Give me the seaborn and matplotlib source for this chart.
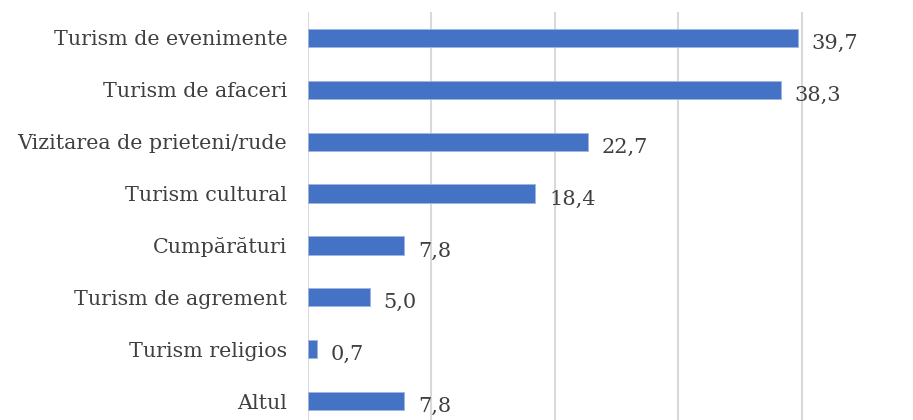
import matplotlib
matplotlib.use("Agg")
import matplotlib.pyplot as plt
import seaborn as sns
import pandas as pd

# -------------------------------
# Data
# -------------------------------
categories = [
    "Turism de evenimente",
    "Turism de afaceri",
    "Vizitarea de prieteni/rude",
    "Turism cultural",
    "Cumpărături",
    "Turism de agrement",
    "Turism religios",
    "Altul",
]
values = [39.7, 38.3, 22.7, 18.4, 7.8, 5.0, 0.7, 7.8]
value_labels = ["39,7", "38,3", "22,7", "18,4", "7,8", "5,0", "0,7", "7,8"]

df = pd.DataFrame({"categorie": categories, "procent": values})

# -------------------------------
# Plot
# -------------------------------
sns.set_style("white")
plt.rcParams["font.family"] = ["DejaVu Serif", "DejaVu Sans"]

W, H = 913, 420
fig = plt.figure(figsize=(W / 100, H / 100), dpi=100)
# axes run past the right and bottom edges like the cropped original
ax = fig.add_axes([308 / W, (H - 427) / H, (925 - 308) / W, (427 - 12) / H])

sns.barplot(
    data=df, x="procent", y="categorie", orient="h",
    color="#4472c4", width=0.35, saturation=1, ax=ax,
    edgecolor="#9fb4e0", linewidth=0.6, zorder=3,
)

ax.set_xlim(0, 50)
ax.set_xticks([0, 10, 20, 30, 40, 50])
ax.xaxis.grid(True, color="#d9d9d9", linewidth=1.5, zorder=0)
ax.set_axisbelow(True)
for s in ax.spines.values():
    s.set_visible(False)
ax.tick_params(axis="x", bottom=False, labelbottom=False)
ax.tick_params(axis="y", left=False, pad=11.5, labelsize=14.9, labelcolor="#404040")
ax.set_xlabel("")
ax.set_ylabel("")

for i, (v, lab) in enumerate(zip(values, value_labels)):
    ax.annotate(lab, (v, i), xytext=(10, -4), textcoords="offset points",
                va="center", ha="left", fontsize=15, color="#404040")

fig.savefig("out.png", dpi=100)
